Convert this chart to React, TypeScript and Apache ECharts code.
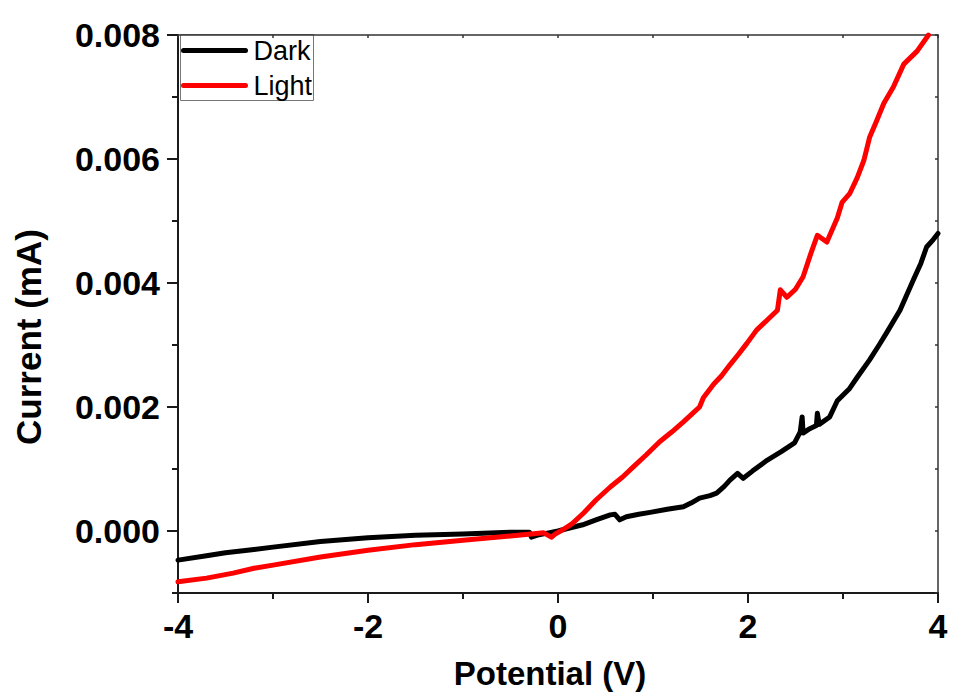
import React, { useEffect, useRef } from "react";
import * as echarts from "echarts";

const seriesNames = ["Dark", "Light"];
const seriesColors = ["#000000", "#ff0000"];

const darkData: [number, number][] = [
  [-4, -0.00047], [-3.7, -0.0004], [-3.5, -0.00035], [-3.2, -0.0003], [-3, -0.00026],
  [-2.5, -0.00017], [-2, -0.00011], [-1.5, -0.00007], [-1, -0.00005], [-0.5, -0.00002],
  [-0.3, -0.00002], [-0.28, -0.0001], [-0.2, -0.00006], [-0.1, -0.00003], [0, 0.0],
  [0.1, 0.00004], [0.26, 0.0001], [0.4, 0.00018], [0.55, 0.00026], [0.6, 0.00027],
  [0.65, 0.00018], [0.72, 0.00023], [0.85, 0.00027], [0.97, 0.0003], [1.15, 0.00035],
  [1.32, 0.00039], [1.4, 0.00045], [1.49, 0.00053], [1.6, 0.00057], [1.67, 0.00061],
  [1.75, 0.00072], [1.81, 0.00082], [1.89, 0.00093], [1.95, 0.00085], [2.05, 0.00097],
  [2.2, 0.00114], [2.35, 0.00128], [2.49, 0.00142], [2.55, 0.0016], [2.57, 0.00184],
  [2.58, 0.00158], [2.65, 0.00165], [2.72, 0.0017], [2.73, 0.0019], [2.75, 0.00172],
  [2.86, 0.00184], [2.94, 0.0021], [3.07, 0.0023], [3.15, 0.00248], [3.28, 0.00276],
  [3.38, 0.003], [3.46, 0.0032], [3.6, 0.00356], [3.74, 0.00405], [3.82, 0.00432],
  [3.88, 0.00458], [3.95, 0.0047], [4.0, 0.0048],
];

const lightData: [number, number][] = [
  [-4, -0.00082], [-3.7, -0.00076], [-3.42, -0.00068], [-3.2, -0.0006], [-3, -0.00055],
  [-2.5, -0.00042], [-2, -0.00031], [-1.5, -0.00022], [-1, -0.00015], [-0.5, -0.00008],
  [-0.15, -0.00003], [-0.07, -0.0001], [-0.03, -0.00005], [0.05, 0.00002], [0.15, 0.00012],
  [0.27, 0.00029], [0.4, 0.0005], [0.55, 0.00071], [0.68, 0.00087], [0.79, 0.00103],
  [0.93, 0.00123], [1.07, 0.00144], [1.2, 0.0016], [1.32, 0.00176], [1.42, 0.0019],
  [1.49, 0.002], [1.53, 0.00215], [1.64, 0.00237], [1.72, 0.0025], [1.81, 0.00268],
  [1.9, 0.00285], [1.99, 0.00303], [2.09, 0.00324], [2.2, 0.0034], [2.31, 0.00356],
  [2.34, 0.00389], [2.41, 0.00377], [2.5, 0.0039], [2.58, 0.0041], [2.66, 0.00447],
  [2.73, 0.00477], [2.83, 0.00466], [2.94, 0.00505], [2.99, 0.0053], [3.07, 0.00544],
  [3.15, 0.0057], [3.22, 0.00598], [3.28, 0.00635], [3.35, 0.0066], [3.43, 0.0069],
  [3.53, 0.00716], [3.64, 0.00753], [3.78, 0.00774], [3.9, 0.008],
];

const yLabelValues = [0, 0.002, 0.004, 0.006, 0.008];
const xAxisTitle = "Potential (V)";
const yAxisTitle = "Current (mA)";

const FONT = "'Liberation Sans', Arial, sans-serif";

export default function App() {
  const ref = useRef<HTMLDivElement>(null);
  useEffect(() => {
    if (!ref.current) return;
    const chart = echarts.init(ref.current, null, { renderer: "svg" });
    const axisLineStyle = { color: "#1a1a1a", width: 2 };
    const labelStyle = { color: "#000", fontSize: 34, fontWeight: "bold" as const, fontFamily: FONT };
    chart.setOption({
      animation: false,
      backgroundColor: "#ffffff",
      grid: { left: 178, top: 35, right: 15, bottom: 103, containLabel: false },
      xAxis: [
        {
          type: "value", min: -4, max: 4, interval: 2, position: "bottom",
          axisLine: { show: true, onZero: false, lineStyle: axisLineStyle },
          axisTick: { show: true, inside: false, length: 10, lineStyle: axisLineStyle },
          minorTick: { show: true, splitNumber: 2, length: 6, lineStyle: axisLineStyle },
          splitLine: { show: false },
          axisLabel: { ...labelStyle, margin: 16 },
          name: xAxisTitle, nameLocation: "middle", nameGap: 64,
          nameTextStyle: { color: "#000", fontSize: 33, fontWeight: "bold", fontFamily: FONT, padding: [0, 16, 0, 0] },
        },
        {
          type: "value", min: -4, max: 4, interval: 1, position: "top",
          axisLine: { show: true, onZero: false, lineStyle: { color: "#333", width: 1.5 } },
          axisTick: { show: true, inside: true, length: 3, lineStyle: { color: "#333", width: 1.5 } },
          splitLine: { show: false },
          axisLabel: { show: false },
        },
      ],
      yAxis: [
        {
          type: "value", min: -0.001, max: 0.008, interval: 0.001, position: "left",
          axisLine: { show: true, onZero: false, lineStyle: axisLineStyle },
          axisTick: { show: true, inside: false, length: 11, customValues: yLabelValues, lineStyle: axisLineStyle },
          splitLine: { show: false },
          axisLabel: {
            ...labelStyle, margin: 18, customValues: yLabelValues,
            formatter: (v: number) => (Math.abs(v) < 1e-9 ? 0 : v).toFixed(3),
          },
          name: yAxisTitle, nameLocation: "middle", nameGap: 132, nameRotate: 90,
          nameTextStyle: { color: "#000", fontSize: 35, fontWeight: "bold", fontFamily: FONT, padding: [0, 46, 0, 0] },
        },
        {
          type: "value", min: -0.001, max: 0.008, interval: 0.001, position: "left",
          axisLine: { show: false, onZero: false },
          axisTick: { show: true, inside: false, length: 6, lineStyle: axisLineStyle },
          splitLine: { show: false },
          axisLabel: { show: false },
        },
        {
          type: "value", min: -0.001, max: 0.008, interval: 0.001, position: "right",
          axisLine: { show: true, onZero: false, lineStyle: { color: "#333", width: 1.5 } },
          axisTick: { show: true, inside: true, length: 3, lineStyle: { color: "#333", width: 1.5 } },
          splitLine: { show: false },
          axisLabel: { show: false },
        },
      ],
      series: [
        {
          name: seriesNames[0], type: "line", data: darkData, showSymbol: false,
          xAxisIndex: 0, yAxisIndex: 0, clip: true,
          lineStyle: { color: seriesColors[0], width: 5, cap: "round", join: "round" },
          z: 2,
        },
        {
          name: seriesNames[1], type: "line", data: lightData, showSymbol: false,
          xAxisIndex: 0, yAxisIndex: 0, clip: true,
          lineStyle: { color: seriesColors[1], width: 5, cap: "round", join: "round" },
          z: 3,
        },
      ],
      graphic: [
        {
          type: "group", left: 180, top: 34, z: 100,
          children: [
            { type: "rect", shape: { x: 0, y: 0, width: 133, height: 66 }, style: { fill: "#fff", stroke: "#777", lineWidth: 1 } },
            { type: "line", shape: { x1: 3, y1: 16, x2: 65, y2: 16 }, style: { stroke: seriesColors[0], lineWidth: 5, lineCap: "round" } },
            { type: "line", shape: { x1: 3, y1: 51, x2: 65, y2: 51 }, style: { stroke: seriesColors[1], lineWidth: 5, lineCap: "round" } },
            { type: "text", x: 73, y: 16, style: { text: seriesNames[0], fill: "#000", fontSize: 27, fontFamily: FONT, verticalAlign: "middle", align: "left" } },
            { type: "text", x: 73, y: 51, style: { text: seriesNames[1], fill: "#000", fontSize: 27, fontFamily: FONT, verticalAlign: "middle", align: "left" } },
          ],
        },
      ],
    });
    return () => chart.dispose();
  }, []);
  return (
    <div
      ref={ref}
      style={{ position: "fixed", left: 0, top: 0, width: 953, height: 696, background: "#fff" }}
    />
  );
}
